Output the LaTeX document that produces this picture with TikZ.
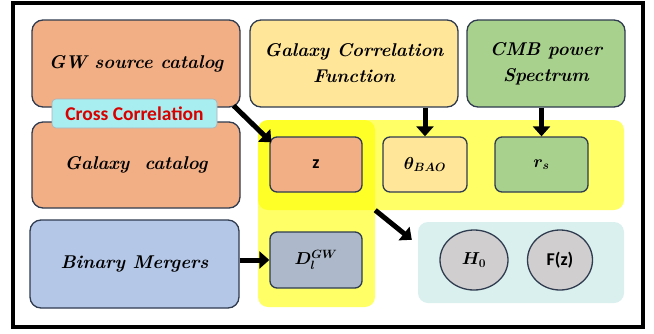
\documentclass[tikz,border=0pt]{standalone}
\usepackage{amsmath}
\usepackage{fontspec}
\newfontfamily\calibri{Carlito}
\usetikzlibrary{arrows.meta,shapes.geometric}
\definecolor{salmon}{HTML}{F2AF85}
\definecolor{sand}{HTML}{FFE699}
\definecolor{leaf}{HTML}{A9D18E}
\definecolor{sky}{HTML}{B4C7E7}
\definecolor{slate}{HTML}{ADB9CA}
\definecolor{aqua}{HTML}{A8EDEF}
\definecolor{mist}{HTML}{D9F0EE}
\definecolor{pebble}{HTML}{D0CECE}
\definecolor{edge}{HTML}{2F3B4F}
\definecolor{hilite}{HTML}{FFFF00}
\tikzset{
  box/.style={draw=edge, line width=1.3pt, rounded corners=11pt, align=center,
    font=\fontsize{18.5}{26}\selectfont\bfseries\itshape, inner sep=2pt},
  small/.style={draw=edge, line width=1.3pt, rounded corners=7pt, align=center,
    minimum width=#1, minimum height=55pt, font=\fontsize{17}{20}\selectfont, inner sep=0pt},
  band/.style={fill=hilite, fill opacity=0.6, rounded corners=10pt, draw=none, inner sep=0pt},
  oval/.style={ellipse, draw=edge, line width=1.3pt, fill=pebble, inner sep=0pt,
    minimum width=#1, minimum height=60pt, font=\fontsize{17}{20}\selectfont},
  sans/.style={font=\fontsize{18}{21}\selectfont\calibri\bfseries},
  fat/.style={line width=5pt, -{Triangle[length=10pt,width=17pt]}, black}
}
\begin{document}
\begin{tikzpicture}[x=1pt,y=-1pt]
\useasboundingbox (0,0) rectangle (654,333);
\fill[white] (0,0) rectangle (654,333);
\draw[line width=4pt] (13,3) rectangle (643,327);

% yellow bands
\node[band, minimum width=366pt, minimum height=90pt] (yh) at (441,165) {};
\node[band, minimum width=117pt, minimum height=187pt] (yv) at (316.5,213.5) {};
% teal region
\node[fill=mist, rounded corners=10pt, minimum width=206pt, minimum height=81pt, inner sep=0pt] (teal) at (521,262.5) {};

% top boxes
\node[box, fill=salmon, minimum width=208pt, minimum height=87pt] (gw) at (136,63.5) {GW source catalog};
\node[box, fill=salmon, minimum width=208pt, minimum height=86pt] (gc) at (136,165) {Galaxy\ \ catalog};
\node[draw=edge!40, line width=0.6pt, rounded corners=4pt, fill=aqua, minimum width=165pt, minimum height=29pt,
  inner sep=0pt, text=red!85!black, font=\fontsize{19.5}{22}\selectfont\calibri\bfseries] (cc) at (134.5,113.5) {Cross Correlation};
\node[box, fill=sky, minimum width=209pt, minimum height=88pt] (bm) at (134.5,264) {Binary Mergers};
\node[box, fill=sand, minimum width=208pt, minimum height=87pt] (gcf) at (354,63.5) {Galaxy Correlation\\Function};
\node[box, fill=leaf, minimum width=158pt, minimum height=87pt] (cmb) at (546,63.5) {CMB power\\Spectrum};

% small boxes
\node[small=92pt, fill=salmon, sans] (z) at (316,164.5) {z};
\node[small=92pt, fill=slate, minimum height=56pt] (dl) at (316,260) {$\boldsymbol{D_l^{GW}}$};
\node[small=84pt, fill=sand] (th) at (425,164.5) {$\boldsymbol{\theta_{BAO}}$};
\node[small=93pt, fill=leaf] (rs) at (541.5,164.5) {$\boldsymbol{r_s}$};

% ellipses
\node[oval=68pt] (h0) at (474,260) {$\boldsymbol{H_0}$};
\node[oval=65pt, sans] (fz) at (560,260) {F(z)};

% arrows
\draw[fat] ([xshift=-7pt,yshift=2pt]gw.south east) -- ([xshift=2pt,yshift=-6pt]z.north west);
\draw[fat] (th.north |- gcf.south) -- (th.north);
\draw[fat] (rs.north |- cmb.south) -- (rs.north);
\draw[fat] (bm.east |- dl.west) -- (dl.west);
\draw[fat] (yv.east |- yh.south) -- ([xshift=-6pt,yshift=-18pt]teal.north west);
\end{tikzpicture}
\end{document}
